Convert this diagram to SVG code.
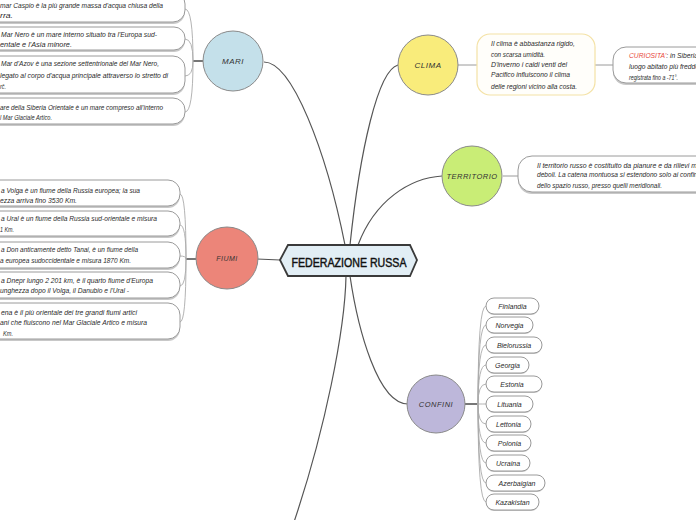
<svg xmlns="http://www.w3.org/2000/svg" width="696" height="520" viewBox="0 0 696 520">
<style>
.t{font-family:"Liberation Sans",Arial,sans-serif;font-style:italic;font-size:7px;fill:#2a2a2a}
.lab{font-family:"Liberation Sans",Arial,sans-serif;font-style:italic;font-size:8px;fill:#333;text-anchor:middle;letter-spacing:0.5px}
.box{fill:#fff;stroke:#9a9a9a;stroke-width:1}
.sh{fill:#c8c8c8}
.circ{stroke:#8a8a8a;stroke-width:1}
.con{fill:none;stroke:#555;stroke-width:1.2}
.br{fill:none;stroke:#aaa;stroke-width:0.9}
.jn{fill:none;stroke:#555;stroke-width:1.6}
.lk{fill:none;stroke:#9a9a9a;stroke-width:1}
.c{text-anchor:middle}
</style>
<rect width="696" height="520" fill="#fff"/>

<g id="connectors">
<path class="con" d="M264,62 C292,62 326,150 345,245"/>
<path class="con" d="M398,65 C378,70 360,150 350,245"/>
<path class="con" d="M442,176 C410,178 375,200 358,245"/>
<path class="con" d="M346,276 C345,330 325,430 294,522"/>
<path class="con" d="M350,276 C358,330 378,404 408,404"/>
<path class="con" d="M257,259 L280,260"/>
<path class="jn" d="M193,61 L203,61"/>
<path class="br" d="M193,61 Q193,9 185,9"/>
<path class="br" d="M193,61 Q193,39 185,39"/>
<path class="br" d="M193,61 Q193,76 185,76"/>
<path class="br" d="M193,61 Q193,112 185,112"/>
<path class="jn" d="M186,259 L196,259"/>
<path class="br" d="M186,259 Q186,194 180,194"/>
<path class="br" d="M186,259 Q186,225 180,225"/>
<path class="br" d="M186,259 Q186,256 180,256"/>
<path class="br" d="M186,259 Q186,286 180,286"/>
<path class="br" d="M186,259 Q186,322 180,322"/>
<path class="lk" d="M458,65 L477,65"/>
<path class="lk" d="M595,65 L613,65"/>
<path class="lk" d="M503,176 L518,176"/>
<path class="jn" d="M465,404 L478,404"/>
<path class="br" d="M478,404 Q478,306 486,306"/>
<path class="br" d="M478,404 Q478,325 486,325"/>
<path class="br" d="M478,404 Q478,345 486,345"/>
<path class="br" d="M478,404 Q478,365 486,365"/>
<path class="br" d="M478,404 Q478,384 486,384"/>
<path class="br" d="M478,404 Q478,404 486,404"/>
<path class="br" d="M478,404 Q478,424 486,424"/>
<path class="br" d="M478,404 Q478,443 486,443"/>
<path class="br" d="M478,404 Q478,463 486,463"/>
<path class="br" d="M478,404 Q478,483 486,483"/>
<path class="br" d="M478,404 Q478,502 486,502"/>
</g>

<g id="center">
<path d="M280,260 L288,245 L410,245 L417,260 L410,276 L288,276 Z" fill="#e2eef5" stroke="#3a3a3a" stroke-width="1.8"/>
<text x="349" y="266.5" font-family="Liberation Sans,Arial,sans-serif" font-size="13" fill="#111" stroke="#111" stroke-width="0.45" text-anchor="middle" textLength="115" lengthAdjust="spacingAndGlyphs">FEDERAZIONE RUSSA</text>
</g>

<g id="mari">
<circle class="circ" cx="233" cy="61" r="30" fill="#c4e0ea"/>
<text class="lab" x="233" y="64">MARI</text>
</g>
<g id="mari-1">
<rect class="sh" x="-20" y="-6" width="205" height="30" rx="12"/>
<rect class="box" x="-20" y="-8" width="205" height="30" rx="12"/>
<text class="t" x="0" y="7.5" textLength="163" lengthAdjust="spacingAndGlyphs">mar Caspio è la più grande massa d'acqua chiusa della</text>
<text class="t" x="0" y="18" textLength="13" lengthAdjust="spacingAndGlyphs">rra.</text>
</g>
<g id="mari-2">
<rect class="sh" x="-20" y="29" width="205" height="23" rx="11"/>
<rect class="box" x="-20" y="27" width="205" height="23" rx="11"/>
<text class="t" x="1" y="37" textLength="156" lengthAdjust="spacingAndGlyphs">Mar Nero è un mare interno situato tra l'Europa sud-</text>
<text class="t" x="0" y="47" textLength="72" lengthAdjust="spacingAndGlyphs">entale e l'Asia minore.</text>
</g>
<g id="mari-3">
<rect class="sh" x="-20" y="58" width="205" height="37" rx="12"/>
<rect class="box" x="-20" y="56" width="205" height="37" rx="12"/>
<text class="t" x="1" y="66" textLength="158" lengthAdjust="spacingAndGlyphs">Mar d'Azov è una sezione settentrionale del Mar Nero,</text>
<text class="t" x="0" y="78" textLength="168" lengthAdjust="spacingAndGlyphs">legato al corpo d'acqua principale attraverso lo stretto di</text>
<text class="t" x="0" y="89" textLength="6" lengthAdjust="spacingAndGlyphs">rč.</text>
</g>
<g id="mari-4">
<rect class="sh" x="-20" y="100" width="205" height="26" rx="12"/>
<rect class="box" x="-20" y="98" width="205" height="26" rx="12"/>
<text class="t" x="0" y="110" textLength="163" lengthAdjust="spacingAndGlyphs">are della Siberia Orientale è un mare compreso all'interno</text>
<text class="t" x="0" y="120" textLength="52" lengthAdjust="spacingAndGlyphs">l Mar Glaciale Artico.</text>
</g>

<g id="fiumi">
<circle class="circ" cx="227" cy="258" r="31" fill="#ec8579"/>
<text class="lab" x="227" y="261" style="font-size:7px">FIUMI</text>
</g>
<g id="fiumi-1">
<rect class="sh" x="-20" y="182" width="200" height="26" rx="12"/>
<rect class="box" x="-20" y="180" width="200" height="26" rx="12"/>
<text class="t" x="1" y="192.5" textLength="139" lengthAdjust="spacingAndGlyphs">a Volga è un fiume della Russia europea; la sua</text>
<text class="t" x="0" y="202.5" textLength="77" lengthAdjust="spacingAndGlyphs">ezza arriva fino 3530 Km.</text>
</g>
<g id="fiumi-2">
<rect class="sh" x="-20" y="213" width="200" height="25" rx="12"/>
<rect class="box" x="-20" y="211" width="200" height="25" rx="12"/>
<text class="t" x="1" y="221" textLength="156" lengthAdjust="spacingAndGlyphs">a Ural è un fiume della Russia sud-orientale e misura</text>
<text class="t" x="0" y="232" textLength="14" lengthAdjust="spacingAndGlyphs">1 Km.</text>
</g>
<g id="fiumi-3">
<rect class="sh" x="-20" y="244" width="200" height="26" rx="12"/>
<rect class="box" x="-20" y="242" width="200" height="26" rx="12"/>
<text class="t" x="1" y="252" textLength="137" lengthAdjust="spacingAndGlyphs">a Don anticamente detto Tanai, è un fiume della</text>
<text class="t" x="0" y="263" textLength="131" lengthAdjust="spacingAndGlyphs">a europea sudoccidentale e misura 1870 Km.</text>
</g>
<g id="fiumi-4">
<rect class="sh" x="-20" y="274" width="200" height="26" rx="12"/>
<rect class="box" x="-20" y="272" width="200" height="26" rx="12"/>
<text class="t" x="1" y="283" textLength="152" lengthAdjust="spacingAndGlyphs">a Dnepr lungo 2 201 km, è il quarto fiume d'Europa</text>
<text class="t" x="0" y="292.5" textLength="129" lengthAdjust="spacingAndGlyphs">unghezza dopo il Volga, il Danubio e l'Ural -</text>
</g>
<g id="fiumi-5">
<rect class="sh" x="-20" y="305" width="200" height="36" rx="12"/>
<rect class="box" x="-20" y="303" width="200" height="36" rx="12"/>
<text class="t" x="1" y="315" textLength="136" lengthAdjust="spacingAndGlyphs">ena è il più orientale dei tre grandi fiumi artici</text>
<text class="t" x="0" y="325" textLength="147" lengthAdjust="spacingAndGlyphs">ani che fluiscono nel Mar Glaciale Artico e misura</text>
<text class="t" x="3" y="336" textLength="10" lengthAdjust="spacingAndGlyphs">Km.</text>
</g>

<g id="clima">
<circle class="circ" cx="428" cy="65" r="30" fill="#f9ec7b"/>
<text class="lab" x="428" y="68">CLIMA</text>
</g>
<g id="clima-testo">
<rect x="477" y="34" width="118" height="61" rx="13" fill="#fffefa" stroke="#f4e2a6" stroke-width="1.2"/>
<text class="t" x="491" y="45.5" textLength="84" lengthAdjust="spacingAndGlyphs">Il clima è abbastanza rigido,</text>
<text class="t" x="491" y="56.5" textLength="54" lengthAdjust="spacingAndGlyphs">con scarsa umidità.</text>
<text class="t" x="491" y="66.5" textLength="76" lengthAdjust="spacingAndGlyphs">D'inverno i caldi venti del</text>
<text class="t" x="491" y="76.5" textLength="79" lengthAdjust="spacingAndGlyphs">Pacifico influiscono il clima</text>
<text class="t" x="491" y="88.5" textLength="86" lengthAdjust="spacingAndGlyphs">delle regioni vicino alla costa.</text>
</g>
<g id="curiosita">
<rect class="sh" x="613" y="49" width="110" height="36" rx="13"/>
<rect class="box" x="613" y="47" width="110" height="36" rx="13"/>
<text class="t" x="629" y="57.5" textLength="69" lengthAdjust="spacingAndGlyphs"><tspan fill="#e8473b">CURIOSITA'</tspan>: in Siberia</text>
<text class="t" x="629" y="68.5" textLength="70" lengthAdjust="spacingAndGlyphs">luogo abitato più freddo</text>
<text class="t" x="629" y="79.5" textLength="49" lengthAdjust="spacingAndGlyphs">registrata fino a -71°.</text>
</g>

<g id="territorio">
<circle class="circ" cx="472" cy="176" r="30" fill="#c9ed76"/>
<text class="lab" x="472" y="179" style="font-size:7.5px">TERRITORIO</text>
</g>
<g id="territorio-testo">
<rect class="sh" x="518" y="158" width="200" height="36" rx="14"/>
<rect class="box" x="518" y="156" width="200" height="36" rx="14"/>
<text class="t" x="537" y="167.5" textLength="160" lengthAdjust="spacingAndGlyphs">Il territorio russo è costituito da pianure e da rilievi m</text>
<text class="t" x="537" y="177" textLength="162" lengthAdjust="spacingAndGlyphs">deboli. La catena montuosa si estendono solo ai confini</text>
<text class="t" x="537" y="187.5" textLength="125" lengthAdjust="spacingAndGlyphs">dello spazio russo, presso quelli meridionali.</text>
</g>

<g id="confini">
<circle class="circ" cx="436" cy="404" r="29" fill="#bdb7da"/>
<text class="lab" x="436" y="407" style="font-size:7.5px">CONFINI</text>
</g>
<g id="confini-1"><rect class="sh" x="486" y="299" width="53" height="16" rx="8"/><rect class="box" x="486" y="298" width="53" height="16" rx="8"/><text class="t c" x="512.5" y="308.5">Finlandia</text></g>
<g id="confini-2"><rect class="sh" x="486" y="318" width="47" height="16" rx="8"/><rect class="box" x="486" y="317" width="47" height="16" rx="8"/><text class="t c" x="509.5" y="327.5">Norvegia</text></g>
<g id="confini-3"><rect class="sh" x="486" y="338" width="56" height="16" rx="8"/><rect class="box" x="486" y="337" width="56" height="16" rx="8"/><text class="t c" x="514" y="347.5">Bielorussia</text></g>
<g id="confini-4"><rect class="sh" x="486" y="358" width="43" height="16" rx="8"/><rect class="box" x="486" y="357" width="43" height="16" rx="8"/><text class="t c" x="507.5" y="367.5">Georgia</text></g>
<g id="confini-5"><rect class="sh" x="486" y="377" width="56" height="16" rx="8"/><rect class="box" x="486" y="376" width="56" height="16" rx="8"/><text class="t c" x="512" y="386.5">Estonia</text></g>
<g id="confini-6"><rect class="sh" x="486" y="397" width="47" height="16" rx="8"/><rect class="box" x="486" y="396" width="47" height="16" rx="8"/><text class="t c" x="509.5" y="406.5">Lituania</text></g>
<g id="confini-7"><rect class="sh" x="486" y="417" width="45" height="16" rx="8"/><rect class="box" x="486" y="416" width="45" height="16" rx="8"/><text class="t c" x="508.5" y="426.5">Lettonia</text></g>
<g id="confini-8"><rect class="sh" x="486" y="436" width="45" height="16" rx="8"/><rect class="box" x="486" y="435" width="45" height="16" rx="8"/><text class="t c" x="509.5" y="445.5">Polonia</text></g>
<g id="confini-9"><rect class="sh" x="486" y="456" width="44" height="16" rx="8"/><rect class="box" x="486" y="455" width="44" height="16" rx="8"/><text class="t c" x="508" y="465.5">Ucraina</text></g>
<g id="confini-10"><rect class="sh" x="486" y="476" width="59" height="16" rx="8"/><rect class="box" x="486" y="475" width="59" height="16" rx="8"/><text class="t c" x="517" y="485.5">Azerbaigian</text></g>
<g id="confini-11"><rect class="sh" x="486" y="495" width="53" height="16" rx="8"/><rect class="box" x="486" y="494" width="53" height="16" rx="8"/><text class="t c" x="512.5" y="504.5">Kazakistan</text></g>
</svg>
